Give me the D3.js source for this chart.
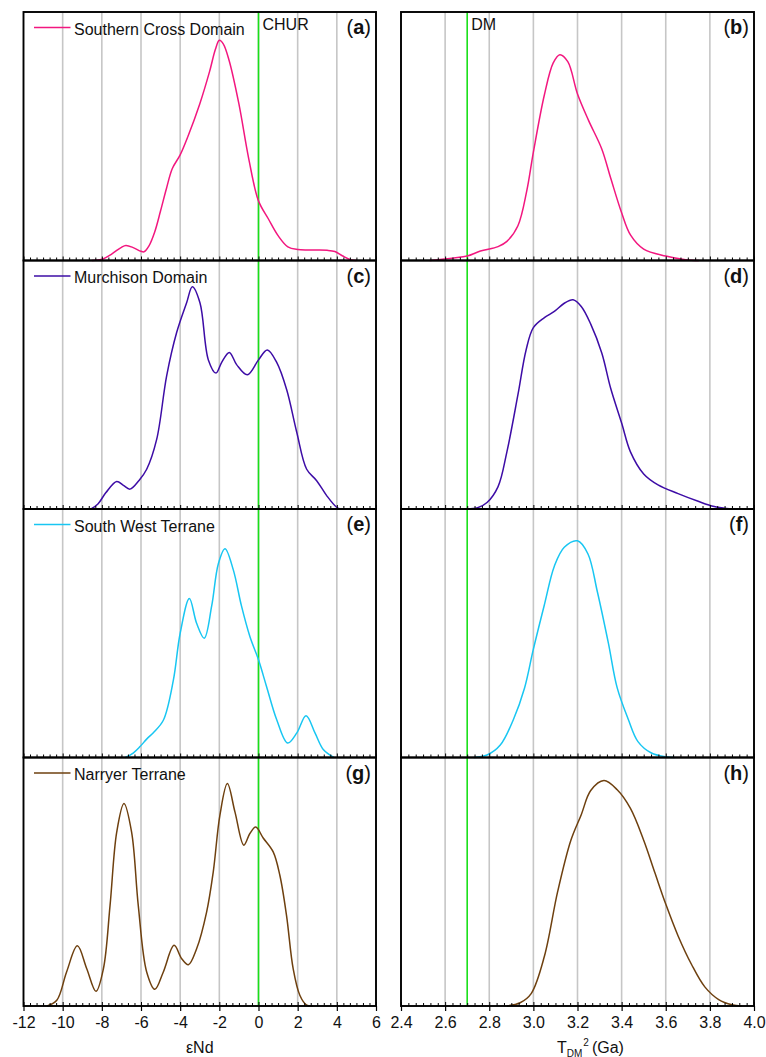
<!DOCTYPE html>
<html>
<head>
<meta charset="utf-8">
<script src="https://cdn.jsdelivr.net/npm/d3@7"></script>
<style>
  html, body { margin: 0; padding: 0; background: #fff; }
  svg { display: block; font-family: "Liberation Sans", Arial, sans-serif; }
</style>
</head>
<body>
<svg id="chart" width="766" height="1057"></svg>
<script>
// Panel names and line colours, top to bottom
const terranes = ["Southern Cross Domain", "Murchison Domain", "South West Terrane", "Narryer Terrane"];
const colors = ["#f2177f", "#3d0ca6", "#18c6f2", "#6e400f"];
const letterLeft = ["a", "c", "e", "g"];
const letterRight = ["b", "d", "f", "h"];

// Axis ticks
const epsTicks = [-12, -10, -8, -6, -4, -2, 0, 2, 4, 6];
const tdmTicks = [2.4, 2.6, 2.8, 3.0, 3.2, 3.4, 3.6, 3.8, 4.0];
const churValue = 0;
const dmValue = 2.7;

// Probability density curves: εNd (relative density)
const southernCrossEps = [[-8.5,0],[-8.0,0.005],[-7.5,0.026],[-7.0,0.053],[-6.77,0.06],[-6.4,0.052],[-6.0,0.037],[-5.85,0.035],[-5.6,0.058],[-5.3,0.115],[-5.0,0.2],[-4.7,0.29],[-4.4,0.37],[-4.0,0.425],[-3.6,0.5],[-3.0,0.63],[-2.5,0.76],[-2.2,0.85],[-2.0,0.886],[-1.8,0.872],[-1.5,0.805],[-1.0,0.63],[-0.5,0.41],[0,0.24],[0.5,0.168],[1.0,0.1],[1.5,0.055],[2.0,0.044],[2.5,0.042],[3.0,0.042],[3.5,0.041],[3.9,0.036],[4.3,0.018],[4.7,0.003],[5.0,0]];
const murchisonEps = [[-8.55,0],[-8.2,0.02],[-7.8,0.065],[-7.24,0.111],[-6.9,0.095],[-6.56,0.08],[-6.1,0.115],[-5.71,0.16],[-5.2,0.28],[-4.69,0.536],[-4.18,0.71],[-3.67,0.83],[-3.38,0.894],[-2.99,0.83],[-2.56,0.6],[-2.17,0.547],[-1.88,0.59],[-1.49,0.63],[-1.11,0.58],[-0.57,0.54],[0,0.6],[0.45,0.64],[0.93,0.59],[1.44,0.48],[1.95,0.31],[2.46,0.16],[2.97,0.114],[3.48,0.054],[3.99,0.007],[4.2,0]];
const southWestEps = [[-6.8,0],[-6.4,0.018],[-6.05,0.044],[-5.7,0.075],[-5.37,0.1],[-4.86,0.15],[-4.35,0.31],[-4.0,0.5],[-3.53,0.64],[-3.16,0.54],[-2.77,0.48],[-2.39,0.61],[-2.05,0.78],[-1.71,0.84],[-1.29,0.756],[-0.87,0.61],[-0.44,0.487],[0,0.393],[0.41,0.286],[0.93,0.152],[1.49,0.058],[1.95,0.098],[2.43,0.168],[2.89,0.098],[3.32,0.031],[3.85,0]];
const narryerEps = [[-10.8,0],[-10.3,0.023],[-9.8,0.137],[-9.25,0.242],[-8.77,0.15],[-8.3,0.059],[-7.92,0.15],[-7.58,0.405],[-7.24,0.7],[-6.87,0.815],[-6.48,0.7],[-6.14,0.405],[-5.71,0.137],[-5.29,0.067],[-4.86,0.137],[-4.31,0.244],[-3.92,0.19],[-3.58,0.166],[-3.16,0.23],[-2.65,0.378],[-2.31,0.54],[-1.97,0.768],[-1.59,0.895],[-1.2,0.78],[-0.75,0.647],[-0.44,0.694],[-0.14,0.72],[0.24,0.676],[0.75,0.62],[1.09,0.526],[1.43,0.365],[1.77,0.15],[2.11,0.043],[2.46,0.003],[2.8,0]];

// Probability density curves: two-stage depleted-mantle model age (Ga)
const southernCrossTdm = [[2.53,0],[2.64,0.01],[2.7,0.018],[2.76,0.038],[2.84,0.056],[2.88,0.077],[2.93,0.14],[2.97,0.28],[3.0,0.436],[3.05,0.667],[3.09,0.795],[3.12,0.828],[3.156,0.8],[3.2,0.67],[3.25,0.564],[3.31,0.449],[3.35,0.333],[3.4,0.192],[3.44,0.103],[3.5,0.046],[3.6,0.018],[3.69,0.003],[3.75,0]];
const murchisonTdm = [[2.7,0],[2.747,0.005],[2.79,0.026],[2.84,0.09],[2.88,0.23],[2.93,0.46],[2.967,0.64],[3.0,0.73],[3.05,0.77],[3.095,0.795],[3.14,0.828],[3.18,0.842],[3.217,0.815],[3.26,0.744],[3.31,0.628],[3.35,0.487],[3.4,0.346],[3.44,0.23],[3.5,0.141],[3.565,0.097],[3.656,0.062],[3.747,0.031],[3.82,0.01],[3.9,0]];
const southWestTdm = [[2.73,0],[2.79,0.01],[2.85,0.05],[2.91,0.154],[2.96,0.28],[3.0,0.436],[3.05,0.615],[3.095,0.77],[3.14,0.846],[3.2,0.872],[3.247,0.82],[3.29,0.667],[3.34,0.46],[3.38,0.28],[3.43,0.154],[3.474,0.064],[3.535,0.018],[3.6,0.003],[3.64,0]];
const narryerTdm = [[2.88,0],[2.94,0.013],[2.99,0.05],[3.05,0.2],[3.11,0.46],[3.17,0.667],[3.217,0.77],[3.26,0.867],[3.32,0.907],[3.38,0.87],[3.44,0.795],[3.5,0.667],[3.55,0.538],[3.6,0.41],[3.656,0.282],[3.717,0.167],[3.777,0.077],[3.84,0.026],[3.9,0.005],[3.944,0]];

const epsSeries = [southernCrossEps, murchisonEps, southWestEps, narryerEps];
const tdmSeries = [southernCrossTdm, murchisonTdm, southWestTdm, narryerTdm];

// Layout
const svg = d3.select("#chart");
const top0 = 12, panelH = 248.5, nRows = 4;
const bottom = top0 + panelH * nRows;
const xEps = d3.scaleLinear().domain([-12, 6]).range([23.5, 376]);
const xTdm = d3.scaleLinear().domain([2.4, 4.0]).range([401, 754]);
const rowY = i => d3.scaleLinear().domain([0, 1]).range([top0 + panelH * (i + 1), top0 + panelH * i]);

function minorValues(majors, n) {
  const out = [];
  for (let k = 0; k < majors.length - 1; k++) {
    const a = majors[k], b = majors[k + 1];
    for (let j = 1; j < n; j++) out.push(a + (b - a) * j / n);
  }
  return out;
}

const gridColor = "#c6c6c6";
const green = "#19e019";

function drawColumn(x, ticks, series, letters, refValue, refLabel, legend) {
  const col = svg.append("g");
  // vertical grid lines through all panels
  col.append("g").selectAll("line")
    .data(ticks.slice(1, -1))
    .join("line")
    .attr("x1", d => x(d)).attr("x2", d => x(d))
    .attr("y1", top0).attr("y2", bottom)
    .attr("stroke", gridColor).attr("stroke-width", 1.6);
  // reference line
  col.append("line")
    .attr("x1", x(refValue)).attr("x2", x(refValue))
    .attr("y1", top0).attr("y2", bottom)
    .attr("stroke", green).attr("stroke-width", 1.6);
  col.append("text")
    .attr("x", x(refValue) + 4).attr("y", top0 + 17.5)
    .attr("font-size", 16).attr("fill", "#111")
    .text(refLabel);

  const minors = minorValues(ticks, 6);
  series.forEach((pts, i) => {
    const y = rowY(i);
    const line = d3.line()
      .x(d => x(d[0]))
      .y(d => Math.min(y(0), y(d[1])))
      .curve(d3.curveCatmullRom.alpha(0.5));
    col.append("path")
      .attr("d", line(pts))
      .attr("fill", "none")
      .attr("stroke", colors[i])
      .attr("stroke-width", 1.5);

    // inward ticks along each panel's bottom edge
    const yb = top0 + panelH * (i + 1);
    col.append("g").attr("transform", `translate(0,${yb})`)
      .call(d3.axisTop(x).tickValues(minors).tickSize(3).tickFormat(""))
      .call(g => g.select(".domain").remove())
      .call(g => g.selectAll("line").attr("stroke", "#000").attr("stroke-width", 1));
    col.append("g").attr("transform", `translate(0,${yb})`)
      .call(d3.axisTop(x).tickValues(ticks).tickSize(4).tickFormat(""))
      .call(g => g.select(".domain").remove())
      .call(g => g.selectAll("line").attr("stroke", "#000").attr("stroke-width", 1));

    // panel frame
    col.append("rect")
      .attr("x", x.range()[0]).attr("y", top0 + panelH * i)
      .attr("width", x.range()[1] - x.range()[0]).attr("height", panelH)
      .attr("fill", "none").attr("stroke", "#000").attr("stroke-width", 1.9);

    // panel letter
    const lt = col.append("text")
      .attr("x", x.range()[1] - 5).attr("y", top0 + panelH * i + 22)
      .attr("text-anchor", "end").attr("font-size", 20).attr("fill", "#111");
    lt.append("tspan").text("(");
    lt.append("tspan").attr("font-weight", "bold").text(letters[i]);
    lt.append("tspan").text(")");

    if (legend) {
      const ly = top0 + panelH * i;
      col.append("line")
        .attr("x1", 34).attr("x2", 70.5)
        .attr("y1", ly + 15.5).attr("y2", ly + 15.5)
        .attr("stroke", colors[i]).attr("stroke-width", 1.5);
      col.append("text")
        .attr("x", 74).attr("y", ly + 22.5)
        .attr("font-size", 16).attr("fill", "#111")
        .text(terranes[i]);
    }
  });

  // labelled bottom axis
  const fmt = x === xTdm ? d3.format(".1f") : (d => d3.format("d")(d).replace("−", "-"));
  col.append("g").attr("transform", `translate(0,${bottom})`)
    .call(d3.axisBottom(x).tickValues(ticks).tickSize(5).tickPadding(6).tickFormat(fmt))
    .call(g => g.select(".domain").remove())
    .call(g => g.selectAll("line").attr("stroke", "#000").attr("stroke-width", 1.2))
    .call(g => g.selectAll("text").attr("font-size", 16).attr("fill", "#111")
      .attr("font-family", "'Liberation Sans', Arial, sans-serif"));
}

drawColumn(xEps, epsTicks, epsSeries, letterLeft, churValue, "CHUR", true);
drawColumn(xTdm, tdmTicks, tdmSeries, letterRight, dmValue, "DM", false);

// axis titles
svg.append("text")
  .attr("x", (xEps.range()[0] + xEps.range()[1]) / 2).attr("y", 1052.5)
  .attr("text-anchor", "middle").attr("font-size", 16).attr("fill", "#111")
  .text("εNd");
const tt = svg.append("text")
  .attr("x", 557).attr("y", 1052.5)
  .attr("font-size", 16).attr("fill", "#111");
tt.append("tspan").text("T");
tt.append("tspan").attr("font-size", 10).attr("dy", 4).text("DM");
tt.append("tspan").attr("font-size", 10).attr("dy", -11).attr("dx", 1).text("2");
tt.append("tspan").attr("dy", 7).attr("dx", 3).text("(Ga)");
</script>
</body>
</html>
